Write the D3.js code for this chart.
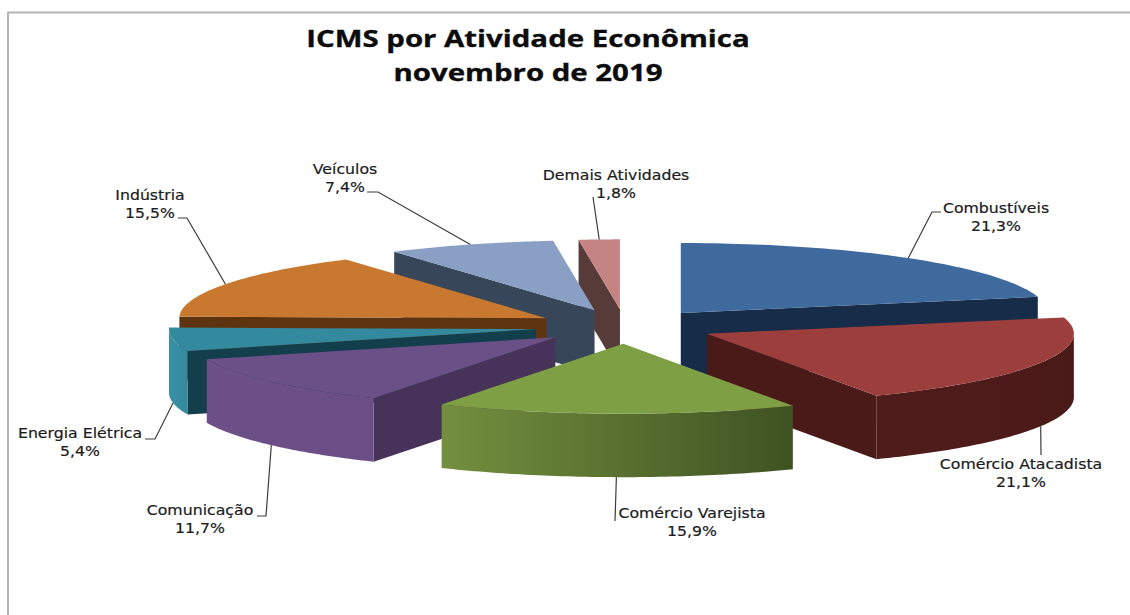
<!DOCTYPE html>
<html lang="pt-BR">
<head>
<meta charset="utf-8">
<title>ICMS por Atividade Econômica</title>
<script src="https://cdn.jsdelivr.net/npm/d3@7"></script>
<style>
  html, body { margin: 0; padding: 0; background: #fff; }
  svg { display: block; }
  .title { font-family: "Open Sans", sans-serif; font-weight: 700; font-size: 24px; fill: #0c0c0c; stroke: #0c0c0c; stroke-width: 0.35; text-anchor: middle; }
  .label { font-family: "DejaVu Sans", sans-serif; font-size: 14px; fill: #1c1c1c; stroke: #1c1c1c; stroke-width: 0.2; text-anchor: middle; }
  .leader { fill: none; stroke: #3c3c3c; stroke-width: 1.2; }
</style>
</head>
<body>
<svg id="chart" width="1130" height="615"></svg>
<script>
// Chart values
const titleLines = ["ICMS por Atividade Econômica", "novembro de 2019"];
const categories = ["Combustíveis", "Comércio Atacadista", "Comércio Varejista", "Comunicação",
                    "Energia Elétrica", "Indústria", "Veículos", "Demais Atividades"];
const shares = [21.3, 21.1, 15.9, 11.7, 5.4, 15.5, 7.4, 1.8];

// Per-slice colours: top face, radial wall, rim gradient from left to right
const topColors  = ["#3f6a9e", "#9c3e3c", "#7f9f45", "#6b4f87", "#338a9e", "#c8782f", "#8a9fc4", "#c48483"];
const wallColors = ["#162c48", "#4a1a19", "#4a5f28", "#473359", "#123f4b", "#5d340f", "#384659", "#573b38"];
const rimLeft    = ["#162c48", "#4e1c1b", "#748f3e", "#6c4f86", "#3a8fa6", "#5d340f", "#384659", "#573b38"];
const rimRight   = ["#162c48", "#4a1a19", "#3f5222", "#6a4e85", "#338a9e", "#5d340f", "#384659", "#573b38"];

// Label anchor (text centre, first baseline) and the leader's elbow points
const labelCentre = [[996, 213], [1021, 469], [692, 518], [200, 515], [80, 438], [150, 200], [345, 174], [616, 180]];
const leaderElbow = [
  [[932, 212], [941, 212]],
  [[1041, 455]],
  [[615, 521]],
  [[266, 516], [257, 516]],
  [[155, 439], [145, 439]],
  [[187, 218], [178, 218]],
  [[378, 192], [367, 192]],
  [[593, 197]]
];

// Projection of the tilted pie
const centre = { x: 625, y: 326.5 };
const radiusX = 367, radiusY = 70, depth = 63.5, explode = 90;

// Horizontal stretch applied to the wide lettering
const titleStretch = 1.225, labelStretch = 1.125;

const svg = d3.select("#chart");
const defs = svg.append("defs");

// Chart-area frame along the top and left edges
svg.append("path")
  .attr("d", "M8,615V12.5H1130")
  .attr("fill", "none").attr("stroke", "#b4b4b4").attr("stroke-width", 2);

// Title
svg.selectAll("text.title").data(titleLines).join("text")
  .attr("class", "title")
  .attr("transform", (d, i) => `translate(528,${47 + i * 34}) scale(${titleStretch},1)`)
  .text(d => d);

const angles = d3.pie().sort(null).value(d => d)(shares);
const decimal = d3.formatLocale({ decimal: ",", thousands: ".", grouping: [3], currency: ["R$", ""] }).format(".1f");

const slices = angles.map((a, i) => {
  const mid = (a.startAngle + a.endAngle) / 2;
  const apex = {
    x: centre.x + explode * Math.sin(mid),
    y: centre.y - explode * Math.cos(mid) * radiusY / radiusX
  };
  return { i, start: a.startAngle, end: a.endAngle, mid, apex, value: a.value };
});

// Point on a slice's rim at angle t, dropped by z below the top face
const rimPoint = (s, t, z = 0) => [
  s.apex.x + radiusX * Math.sin(t),
  s.apex.y - radiusY * Math.cos(t) + z
];
const arcSamples = (t0, t1) => d3.range(0, 61).map(k => t0 + (t1 - t0) * k / 60);
const closed = d3.line().curve(d3.curveLinearClosed);

// Paint from the back of the scene to the front
const ordered = slices.slice().sort((a, b) => a.apex.y - b.apex.y);

const groups = svg.selectAll("g.slice").data(ordered).join("g").attr("class", "slice");

groups.each(function (s) {
  const g = d3.select(this);
  const apexPt = [s.apex.x, s.apex.y];
  const apexLow = [s.apex.x, s.apex.y + depth];

  // Radial walls that face the viewer
  if (Math.sin(s.start) < -1e-6) {
    g.append("path").attr("fill", wallColors[s.i]).attr("d", closed([
      apexPt, rimPoint(s, s.start), rimPoint(s, s.start, depth), apexLow
    ]));
  }
  if (Math.sin(s.end) > 1e-6) {
    g.append("path").attr("fill", wallColors[s.i]).attr("d", closed([
      apexPt, rimPoint(s, s.end), rimPoint(s, s.end, depth), apexLow
    ]));
  }

  // Outer rim where it turns towards the viewer
  const r0 = Math.max(s.start, Math.PI / 2), r1 = Math.min(s.end, Math.PI * 1.5);
  if (r1 > r0) {
    const ts = arcSamples(r0, r1);
    const upper = ts.map(t => rimPoint(s, t));
    const lower = ts.map(t => rimPoint(s, t, depth)).reverse();
    const xs = upper.map(p => p[0]);
    const id = "rim-" + s.i;
    const grad = defs.append("linearGradient").attr("id", id)
      .attr("gradientUnits", "userSpaceOnUse")
      .attr("x1", d3.min(xs)).attr("x2", d3.max(xs)).attr("y1", 0).attr("y2", 0);
    grad.append("stop").attr("offset", 0).attr("stop-color", rimLeft[s.i]);
    grad.append("stop").attr("offset", 1).attr("stop-color", rimRight[s.i]);
    g.append("path").attr("fill", `url(#${id})`).attr("d", closed(upper.concat(lower)));
  }

  // Top face
  const top = [apexPt].concat(arcSamples(s.start, s.end).map(t => rimPoint(s, t)));
  g.append("path").attr("fill", topColors[s.i]).attr("d", closed(top));
});

// Leaders run from the rim at each slice's mid-angle to its label
const leaderLine = d3.line();
svg.selectAll("path.leader").data(slices).join("path")
  .attr("class", "leader")
  .attr("d", s => {
    const onFront = Math.cos(s.mid) < 0;
    const from = rimPoint(s, s.mid, onFront ? depth : 0);
    return leaderLine([from].concat(leaderElbow[s.i]));
  });

// Labels: category name over formatted share
const labels = svg.selectAll("g.label-group").data(slices).join("g").attr("class", "label-group");
labels.append("text").attr("class", "label")
  .attr("transform", s => `translate(${labelCentre[s.i][0]},${labelCentre[s.i][1]}) scale(${labelStretch},1)`)
  .text(s => categories[s.i]);
labels.append("text").attr("class", "label")
  .attr("transform", s => `translate(${labelCentre[s.i][0]},${labelCentre[s.i][1] + 18}) scale(${labelStretch},1)`)
  .text(s => decimal(s.value) + "%");
</script>
</body>
</html>
